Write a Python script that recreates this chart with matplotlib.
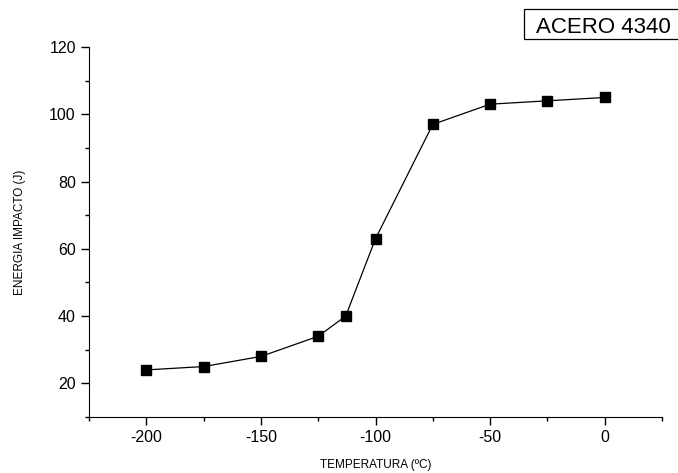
import matplotlib
matplotlib.use("Agg")
import matplotlib.pyplot as plt
from matplotlib.patches import Rectangle
from matplotlib.ticker import MultipleLocator

temperatura = [-200, -175, -150, -125, -113, -100, -75, -50, -25, 0]
energia = [24, 25, 28, 34, 40, 63, 97, 103, 104, 105]

plt.rcParams["font.family"] = ["Liberation Sans", "DejaVu Sans"]
plt.rcParams["axes.unicode_minus"] = False

fig = plt.figure(figsize=(6.78, 4.73), dpi=100)
ax = fig.add_axes([89 / 678, 56 / 473, 573 / 678, 370 / 473])

ax.plot(temperatura, energia, color="black", lw=0.9, marker="s", ms=6.5,
        mfc="black", mec="black")

ax.set_xlim(-225, 25)
ax.set_ylim(10, 120)
ax.xaxis.set_major_locator(MultipleLocator(50))
ax.xaxis.set_minor_locator(MultipleLocator(25))
ax.yaxis.set_major_locator(MultipleLocator(20))
ax.yaxis.set_minor_locator(MultipleLocator(10))
ax.tick_params(which="major", direction="out", length=6, width=1, labelsize=11.5)
ax.tick_params(which="minor", direction="out", length=3, width=1)
ax.spines["top"].set_visible(False)
ax.spines["right"].set_visible(False)
ax.set_xlabel("TEMPERATURA (ºC)", fontsize=8.5, labelpad=10)
ax.set_ylabel("ENERGIA IMPACTO (J)", fontsize=8.5, labelpad=17)

# label box runs off the right edge, as in the original
fig.patches.append(Rectangle((524 / 678, 434 / 473), 0.3, 30 / 473,
                             transform=fig.transFigure, fc="white",
                             ec="black", lw=0.9))
fig.text(603 / 678, 440 / 473, "ACERO 4340", fontsize=16, ha="center",
         va="baseline")

fig.savefig("out.png", dpi=100)
